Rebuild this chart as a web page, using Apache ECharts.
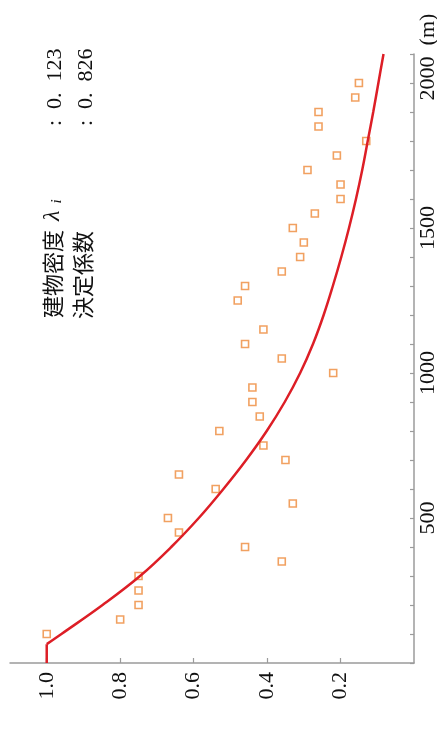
<!DOCTYPE html>
<html>
<head>
<meta charset="utf-8">
<script src="https://cdn.jsdelivr.net/npm/echarts@6/dist/echarts.min.js"></script>
<style>
  html, body { margin: 0; padding: 0; background: #ffffff; }
  #chart { width: 437px; height: 729px; }
</style>
</head>
<body>
<div id="chart"></div>
<script>
// Observed ratio at each distance from the station (m)
const obsDistance = [100, 150, 200, 250, 300, 350, 400, 450, 500, 550, 600, 650, 700, 750, 800, 850, 900, 950, 1000, 1050, 1100, 1150,
                     1250, 1300, 1350, 1400, 1450, 1500, 1550, 1600, 1650, 1700, 1750, 1800, 1850, 1900, 1950, 2000];
const obsRatio = [1.00, 0.80, 0.75, 0.75, 0.75, 0.36, 0.46, 0.64, 0.67, 0.33, 0.54, 0.64, 0.35, 0.41, 0.53, 0.42, 0.44, 0.44, 0.22, 0.36, 0.46, 0.41,
                  0.48, 0.46, 0.36, 0.31, 0.30, 0.33, 0.27, 0.20, 0.20, 0.29, 0.21, 0.13, 0.26, 0.26, 0.16, 0.15];

// Fitted decay curve (flat up to the break point, then decaying)
const curveDistance = [0, 65, 100, 200, 300, 400, 500, 600, 700, 800, 900, 1000, 1100, 1200, 1300, 1400, 1500, 1600, 1700, 1800, 1900, 2000, 2100];
const curveRatio = [1.0, 1.0, 0.96, 0.848, 0.746, 0.661, 0.586, 0.519, 0.457, 0.401, 0.352, 0.31, 0.275, 0.246, 0.221, 0.198, 0.177, 0.158, 0.141, 0.126, 0.111, 0.097, 0.083];
const breakIndex = 1;

// Axis marks
const ratioTicks = [0.2, 0.4, 0.6, 0.8, 1.0];
const distanceLabels = [500, 1000, 1500, 2000];
const distanceTicks = [0, 100, 200, 300, 400, 500, 600, 700, 800, 900, 1000, 1100, 1200, 1300, 1400, 1500, 1600, 1700, 1800, 1900, 2000, 2100];
const distanceUnit = '(m)';

// Fit statistics
const statNames = ['建物密度{lam|λ}{sub|i}', '決定係数'];
const statValues = [':  0.  123', ':  0.  826'];

const serif = '"Liberation Serif", "DejaVu Serif", serif';
const cjk = '"Noto Sans CJK JP", "Noto Sans CJK SC", sans-serif';
const axisGray = '#9b9b9b';
const textColor = '#111111';
const curveColor = '#dd1e26';

const chart = echarts.init(document.getElementById('chart'), null, { renderer: 'canvas' });

const scatterData = obsDistance.map((d, i) => [obsRatio[i], d]);
const curveData = curveDistance.map((d, i) => [curveRatio[i], d]);

chart.setOption({
  animation: false,
  backgroundColor: '#ffffff',
  grid: {
    left: 10, right: 23, top: 54, bottom: 66,
    containLabel: false,
    outerBoundsMode: 'none'
  },
  xAxis: {
    type: 'value',
    min: 0, max: 1.1,
    inverse: true,
    position: 'bottom',
    axisLine: { show: true, lineStyle: { color: axisGray, width: 1.5 } },
    axisTick: { show: true, inside: true, length: 5, customValues: ratioTicks, lineStyle: { color: axisGray, width: 1.2 } },
    axisLabel: {
      customValues: ratioTicks,
      rotate: 90,
      margin: 9,
      fontFamily: serif,
      fontSize: 22,
      color: textColor,
      formatter: v => v.toFixed(1)
    },
    splitLine: { show: false }
  },
  yAxis: {
    type: 'value',
    min: 0, max: 2100,
    position: 'right',
    axisLine: { show: true, onZero: false, lineStyle: { color: axisGray, width: 1.5 } },
    axisTick: { show: true, inside: true, length: 4, customValues: distanceTicks, lineStyle: { color: axisGray, width: 1.2 } },
    axisLabel: {
      customValues: distanceLabels,
      rotate: 90,
      margin: 3,
      fontFamily: serif,
      fontSize: 22,
      color: textColor,
      formatter: v => v === 2000 ? '{pad|}' + v + '  ' + distanceUnit : String(v),
      rich: { pad: { width: 52 } }
    },
    splitLine: { show: false }
  },
  graphic: [
    {
      type: 'text', x: 53, y: 318, rotation: Math.PI / 2,
      style: {
        text: statNames[0],
        font: '22px ' + cjk,
        fill: textColor,
        textAlign: 'left',
        textVerticalAlign: 'middle',
        rich: {
          lam: { fontFamily: serif, fontStyle: 'italic', fontSize: 24, padding: [0, 0, 0, 9] },
          sub: { fontFamily: serif, fontStyle: 'italic', fontSize: 15, verticalAlign: 'bottom', padding: [8, 0, 0, 7] }
        }
      }
    },
    {
      type: 'text', x: 83, y: 319, rotation: Math.PI / 2,
      style: { text: statNames[1], font: '22px ' + cjk, fill: textColor, textAlign: 'left', textVerticalAlign: 'middle' }
    },
    {
      type: 'text', x: 55, y: 126, rotation: Math.PI / 2,
      style: { text: statValues[0], font: '22px ' + serif, fill: textColor, textAlign: 'left', textVerticalAlign: 'middle' }
    },
    {
      type: 'text', x: 86, y: 126, rotation: Math.PI / 2,
      style: { text: statValues[1], font: '22px ' + serif, fill: textColor, textAlign: 'left', textVerticalAlign: 'middle' }
    }
  ],
  series: [
    {
      type: 'scatter',
      data: scatterData,
      symbol: 'rect',
      symbolSize: 7,
      itemStyle: { color: '#ffffff', borderColor: '#ee8a3a', borderWidth: 1.6 },
      z: 2
    },
    {
      // flat part before the break point
      type: 'line',
      data: curveData.slice(0, breakIndex + 1),
      showSymbol: false,
      lineStyle: { color: curveColor, width: 2.5 },
      z: 3
    },
    {
      // decaying part
      type: 'line',
      data: curveData.slice(breakIndex),
      showSymbol: false,
      smooth: 0.4,
      lineStyle: { color: curveColor, width: 2.5 },
      z: 3
    }
  ]
});
</script>
</body>
</html>
